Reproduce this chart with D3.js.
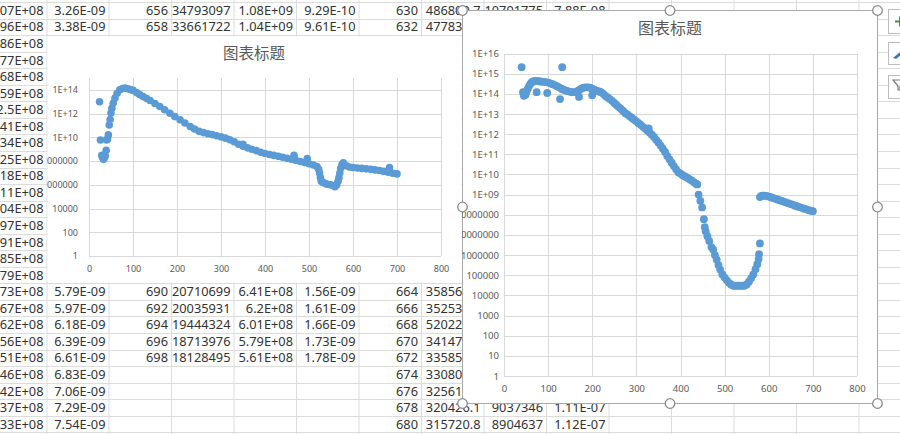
<!DOCTYPE html>
<html>
<head>
<meta charset="utf-8">
<script src="https://cdn.jsdelivr.net/npm/d3@7"></script>
<style>
  body { margin: 0; background: #fff; }
  svg { display: block; font-family: "Noto Sans", "Noto Sans CJK SC", sans-serif; }
</style>
</head>
<body>
<svg id="sheet" width="900" height="434"></svg>
<script>
// ---- chart values ----
var chartTitle = "图表标题";
var xTicks = [0, 100, 200, 300, 400, 500, 600, 700, 800];
var leftYTicks = [1, 1e2, 1e4, 1e6, 1e8, 1e10, 1e12, 1e14];
var rightYTicks = [1, 10, 1e2, 1e3, 1e4, 1e5, 1e6, 1e7, 1e8, 1e9, 1e10, 1e11, 1e12, 1e13, 1e14, 1e15, 1e16];

// left chart series
var leftX = [24, 26, 29, 31, 33, 35, 37, 39, 40, 42, 44, 46, 48, 50, 52, 55, 59, 64, 70, 76,
  82, 88, 94, 100, 108, 115, 123, 131, 139, 150, 161, 172, 184, 195, 207, 218, 230, 240, 250, 260,
  270, 280, 290, 300, 310, 320, 330, 340, 350, 350, 360, 370, 380, 390, 400, 410, 420, 430, 440, 450,
  460, 466, 470, 480, 490, 496, 500, 510, 518, 522, 524, 526, 528, 532, 537, 542, 548, 553, 559, 563,
  566, 568, 570, 572, 575, 578, 585, 592, 600, 610, 620, 630, 640, 650, 660, 670, 680, 683, 690, 700];
var leftY = [1e13, 6e9, 3e8, 2e8, 1.4e8, 2e8, 2.8e8, 8e8, 6e9, 7e9, 1.6e10, 1.1e11, 3.2e11, 1.1e12, 2.8e12, 7.4e12, 2e13, 5.2e13, 1e14, 1.3e14,
  1.4e14, 1.25e14, 1.07e14, 9e13, 5.9e13, 4e13, 2.7e13, 1.9e13, 1.26e13, 7e12, 4e12, 2.1e12, 1.07e12, 5.6e11, 3e11, 1.6e11, 8e10, 5e10, 3.2e10, 2.5e10,
  2e10, 1.7e10, 1.35e10, 1.1e10, 8.5e9, 6.3e9, 4.2e9, 2.6e9, 1.8e9, 2.6e9, 1.3e9, 1e9, 7.6e8, 5.6e8, 4.4e8, 3.6e8, 3e8, 2.5e8, 2.1e8, 1.7e8,
  1.4e8, 3e8, 1.15e8, 9.3e7, 7.4e7, 1.6e8, 6e7, 4.6e7, 3.5e7, 2e7, 1e7, 4e6, 2e6, 1.6e6, 1.26e6, 1.1e6, 1e6, 9e5, 7e5, 1e6,
  2e6, 4e6, 1e7, 2.5e7, 5e7, 7e7, 4e7, 3.2e7, 2.9e7, 2.6e7, 2.4e7, 2.2e7, 2e7, 1.8e7, 1.6e7, 1.35e7, 1.15e7, 2.8e7, 9.5e6, 8.3e6];

// right chart series
var rightX = [40, 43, 45, 47, 49, 51, 54, 57, 60, 63, 67, 71, 74, 75, 80, 85, 90, 95, 98, 100,
  105, 110, 115, 120, 125, 127, 130, 132, 135, 140, 145, 150, 155, 160, 165, 170, 170, 175, 180, 185,
  190, 195, 200, 200, 205, 210, 215, 220, 225, 230, 235, 240, 245, 250, 255, 260, 265, 270, 275, 280,
  285, 290, 295, 300, 305, 310, 315, 320, 325, 328, 330, 335, 340, 345, 350, 355, 360, 365, 370, 375,
  380, 385, 390, 395, 400, 405, 410, 415, 420, 425, 430, 435, 438, 441, 445, 449, 453, 455, 457, 461,
  465, 470, 474, 478, 482, 486, 490, 495, 500, 505, 510, 515, 520, 525, 530, 535, 540, 545, 550, 555,
  560, 565, 570, 574, 577, 578, 580, 580, 583, 587, 590, 595, 600, 605, 610, 615, 620, 625, 630, 635,
  640, 645, 650, 655, 660, 665, 670, 675, 680, 685, 690, 695, 700];
var rightY = [2.1e15, 1.2e14, 8e13, 1.1e14, 9e13, 1.3e14, 1.8e14, 2.5e14, 3.2e14, 3.8e14, 4.2e14, 4.4e14, 1.2e14, 4.4e14, 4.2e14, 4e14, 3.9e14, 3.8e14, 1.1e14, 3.6e14,
  3.3e14, 3e14, 2.7e14, 2.4e14, 2.1e14, 5.5e13, 1.8e14, 2.1e15, 1.6e14, 1.45e14, 1.35e14, 1.25e14, 1.2e14, 1.2e14, 1.3e14, 1.5e14, 7e13, 1.8e14, 2e14, 2.1e14,
  2.1e14, 2e14, 1.8e14, 8.5e13, 1.6e14, 1.45e14, 1.3e14, 1.2e14, 1e14, 7.9e13, 6.6e13, 5.5e13, 4.5e13, 3.5e13, 2.8e13, 2.2e13, 1.8e13, 1.4e13, 1.1e13, 9.3e12,
  7.6e12, 6.3e12, 5.2e12, 4.3e12, 3.5e12, 2.9e12, 2.3e12, 1.9e12, 1.5e12, 1.9e12, 1.2e12, 9.3e11, 7.2e11, 5.2e11, 3.8e11, 2.7e11, 1.9e11, 1.3e11, 8.3e10, 5.6e10,
  3.8e10, 2.6e10, 1.8e10, 1.3e10, 1.1e10, 9.1e9, 7.9e9, 6.9e9, 5.9e9, 5e9, 4.2e9, 3.5e9, 3.2e9, 1e9, 4.9e8, 2.3e8, 6e7, 2.4e7, 1.5e7, 8.7e6,
  5e6, 2.5e6, 1.9e6, 1e6, 6e5, 3.2e5, 1.9e5, 1.1e5, 7.6e4, 5.6e4, 4.2e4, 3.4e4, 3e4, 3e4, 3e4, 3e4, 3e4, 3e4, 3.5e4, 4.8e4,
  7e4, 1.1e5, 2e5, 3.5e5, 6.3e5, 1.1e6, 3.8e6, 7.5e8, 8.5e8, 8.8e8, 8.8e8, 8.6e8, 8e8, 7.4e8, 6.8e8, 6.2e8, 5.7e8, 5.2e8, 4.8e8, 4.4e8,
  4e8, 3.7e8, 3.4e8, 3.1e8, 2.8e8, 2.6e8, 2.4e8, 2.2e8, 2e8, 1.85e8, 1.7e8, 1.6e8, 1.5e8];

// ---- spreadsheet cells visible around the charts (row index, then columns A..J) ----
var sheetRows = [
  [0, ["07E+08", "3.26E-09", "656", "34793097", "1.08E+09", "9.29E-10", "630", "486809.7", "10791775", "7.88E-08"]],
  [1, ["96E+08", "3.38E-09", "658", "33661722", "1.04E+09", "9.61E-10", "632", "477833.1", "10614520", "7.99E-08"]],
  [2, ["86E+08"]], [3, ["77E+08"]], [4, ["68E+08"]], [5, ["59E+08"]], [6, ["2.5E+08"]],
  [7, ["41E+08"]], [8, ["34E+08"]], [9, ["25E+08"]], [10, ["18E+08"]], [11, ["11E+08"]],
  [12, ["04E+08"]], [13, ["97E+08"]], [14, ["91E+08"]], [15, ["85E+08"]], [16, ["79E+08"]],
  [17, ["73E+08", "5.79E-09", "690", "20710699", "6.41E+08", "1.56E-09", "664", "358563.2"]],
  [18, ["67E+08", "5.97E-09", "692", "20035931", "6.2E+08", "1.61E-09", "666", "352531.7"]],
  [19, ["62E+08", "6.18E-09", "694", "19444324", "6.01E+08", "1.66E-09", "668", "520227.5"]],
  [20, ["56E+08", "6.39E-09", "696", "18713976", "5.79E+08", "1.73E-09", "670", "341473.9"]],
  [21, ["51E+08", "6.61E-09", "698", "18128495", "5.61E+08", "1.78E-09", "672", "335859.6"]],
  [22, ["46E+08", "6.83E-09", "", "", "", "", "674", "330806.3"]],
  [23, ["42E+08", "7.06E-09", "", "", "", "", "676", "325613.4"]],
  [24, ["37E+08", "7.29E-09", "", "", "", "", "678", "320426.1", "9037346", "1.11E-07"]],
  [25, ["33E+08", "7.54E-09", "", "", "", "", "680", "315720.8", "8904637", "1.12E-07"]]
];

// ---- layout ----
var W = 900, H = 434;
var colEdges = [-16, 46.5, 108.5, 171, 233.5, 296, 358.5, 421, 483.5, 546, 608.5, 671, 733.5, 796, 858.5, 921];
var rowTop = 2, rowH = 16.55;
var blue = "#5b9bd5", gridColor = "#d9d9d9", textGray = "#595959";

var svg = d3.select("#sheet");
svg.append("rect").attr("width", W).attr("height", H).attr("fill", "#fff");

// spreadsheet grid
var sheet = svg.append("g");
sheet.selectAll("line.col").data(colEdges).enter().append("line")
  .attr("x1", function(d) { return d + 0.5; }).attr("x2", function(d) { return d + 0.5; })
  .attr("y1", 0).attr("y2", H).attr("stroke", "#dcdcdc");
sheet.selectAll("line.row").data(d3.range(0, 27)).enter().append("line")
  .attr("x1", 0).attr("x2", W)
  .attr("y1", function(i) { return Math.round(rowTop + i * rowH) + 0.5; })
  .attr("y2", function(i) { return Math.round(rowTop + i * rowH) + 0.5; })
  .attr("stroke", "#dcdcdc");

sheetRows.forEach(function(row) {
  var r = row[0];
  row[1].forEach(function(txt, c) {
    if (!txt) return;
    sheet.append("text")
      .attr("x", colEdges[c + 1] - 3)
      .attr("y", rowTop + (r + 0.5) * rowH + 4.6)
      .attr("text-anchor", "end")
      .attr("font-size", 12.8)
      .attr("fill", "#333")
      .text(txt);
  });
});

// Excel "General" number format for the log axis labels
function excelLabel(v) {
  var e = Math.round(Math.log10(v));
  if (e >= 9) return "1E+" + (e < 10 ? "0" + e : e);
  return String(Math.round(v));
}

function drawChart(o) {
  var g = svg.append("g");
  var id = "clip" + o.name;
  svg.append("clipPath").attr("id", id).append("rect")
    .attr("x", o.box[0]).attr("y", o.box[1])
    .attr("width", o.box[2] - o.box[0]).attr("height", o.box[3] - o.box[1]);

  g.append("rect")
    .attr("x", o.box[0] + 0.5).attr("y", o.box[1] + 0.5)
    .attr("width", o.box[2] - o.box[0]).attr("height", o.box[3] - o.box[1])
    .attr("fill", "#fff")
    .attr("stroke", o.border ? "#a9a9a9" : "none");

  var inner = g.append("g").attr("clip-path", "url(#" + id + ")");

  var x = d3.scaleLinear().domain([0, 800]).range([o.plot[0], o.plot[2]]);
  var y = d3.scaleLog().domain(o.yDomain).range([o.plot[3], o.plot[1]]);
  var pw = o.plot[2] - o.plot[0], ph = o.plot[3] - o.plot[1];

  var yAxis = inner.append("g")
    .attr("transform", "translate(" + o.plot[0] + ",0)")
    .call(d3.axisLeft(y).tickValues(o.yTicks).tickFormat(excelLabel)
      .tickSize(-pw).tickPadding(o.yPad));
  var xAxis = inner.append("g")
    .attr("transform", "translate(0," + o.plot[3] + ")")
    .call(d3.axisBottom(x).tickValues(xTicks).tickFormat(d3.format("d"))
      .tickSize(-ph).tickPadding(o.xPad));

  [yAxis, xAxis].forEach(function(a) {
    a.select(".domain").remove();
    a.selectAll(".tick line").attr("stroke", gridColor).attr("shape-rendering", "crispEdges");
    a.selectAll(".tick text").attr("fill", textGray).attr("font-size", o.fs)
      .attr("font-family", "'Noto Sans', sans-serif");
  });

  inner.append("text")
    .attr("x", o.titleX).attr("y", o.titleY)
    .attr("text-anchor", "middle")
    .attr("font-family", "'Noto Sans CJK SC', sans-serif")
    .attr("font-size", o.titleSize)
    .attr("fill", textGray)
    .text(chartTitle);

  inner.append("g").selectAll("circle")
    .data(d3.zip(o.xs, o.ys)).enter().append("circle")
    .attr("cx", function(d) { return x(d[0]); })
    .attr("cy", function(d) { return y(d[1]); })
    .attr("r", o.r)
    .attr("fill", blue);
}

drawChart({
  name: "L", box: [47, 36, 461, 282], border: false,
  plot: [89, 78, 441, 256], yDomain: [1, 1e15], yTicks: leftYTicks,
  yPad: 11, xPad: 10, fs: 9, r: 3.8,
  titleX: 254, titleY: 59, titleSize: 15.5,
  xs: leftX, ys: leftY
});

drawChart({
  name: "R", box: [462, 10, 877, 403], border: true,
  plot: [504, 53.5, 857, 376], yDomain: [1, 1e16], yTicks: rightYTicks,
  yPad: 5, xPad: 9.5, fs: 9.5, r: 3.9,
  titleX: 670, titleY: 34, titleSize: 16,
  xs: rightX, ys: rightY
});

// selection handles on the active chart
var hx = [462, 669.5, 877], hy = [10, 206.5, 403];
var handles = [];
hx.forEach(function(a) { hy.forEach(function(b) {
  if (!(a === 669.5 && b === 206.5)) handles.push([a, b]);
}); });
svg.append("g").selectAll("circle").data(handles).enter().append("circle")
  .attr("cx", function(d) { return d[0] + 0.5; })
  .attr("cy", function(d) { return d[1] + 0.5; })
  .attr("r", 4.8)
  .attr("fill", "#fff").attr("stroke", "#8a8a8a").attr("stroke-width", 1.3);

// chart element / style / filter buttons at the right edge
var btns = svg.append("g");
[[9, 24], [42, 22], [75, 23]].forEach(function(b) {
  btns.append("rect").attr("x", 888.5).attr("y", b[0] + 0.5)
    .attr("width", 24).attr("height", b[1])
    .attr("fill", "#fff").attr("stroke", "#bdbdbd");
});
btns.append("path").attr("d", "M895,21.5H905M900,16.5V26.5")
  .attr("stroke", "#3f8f55").attr("stroke-width", 2);
btns.append("path").attr("d", "M893,58L900,52L901,55L896,59Z").attr("fill", "#3a78b8");
btns.append("path").attr("d", "M893,80L905,80L900,86L900,90L898,90L898,86Z")
  .attr("fill", "none").attr("stroke", "#7a7a7a").attr("stroke-width", 1.2);
</script>
</body>
</html>
